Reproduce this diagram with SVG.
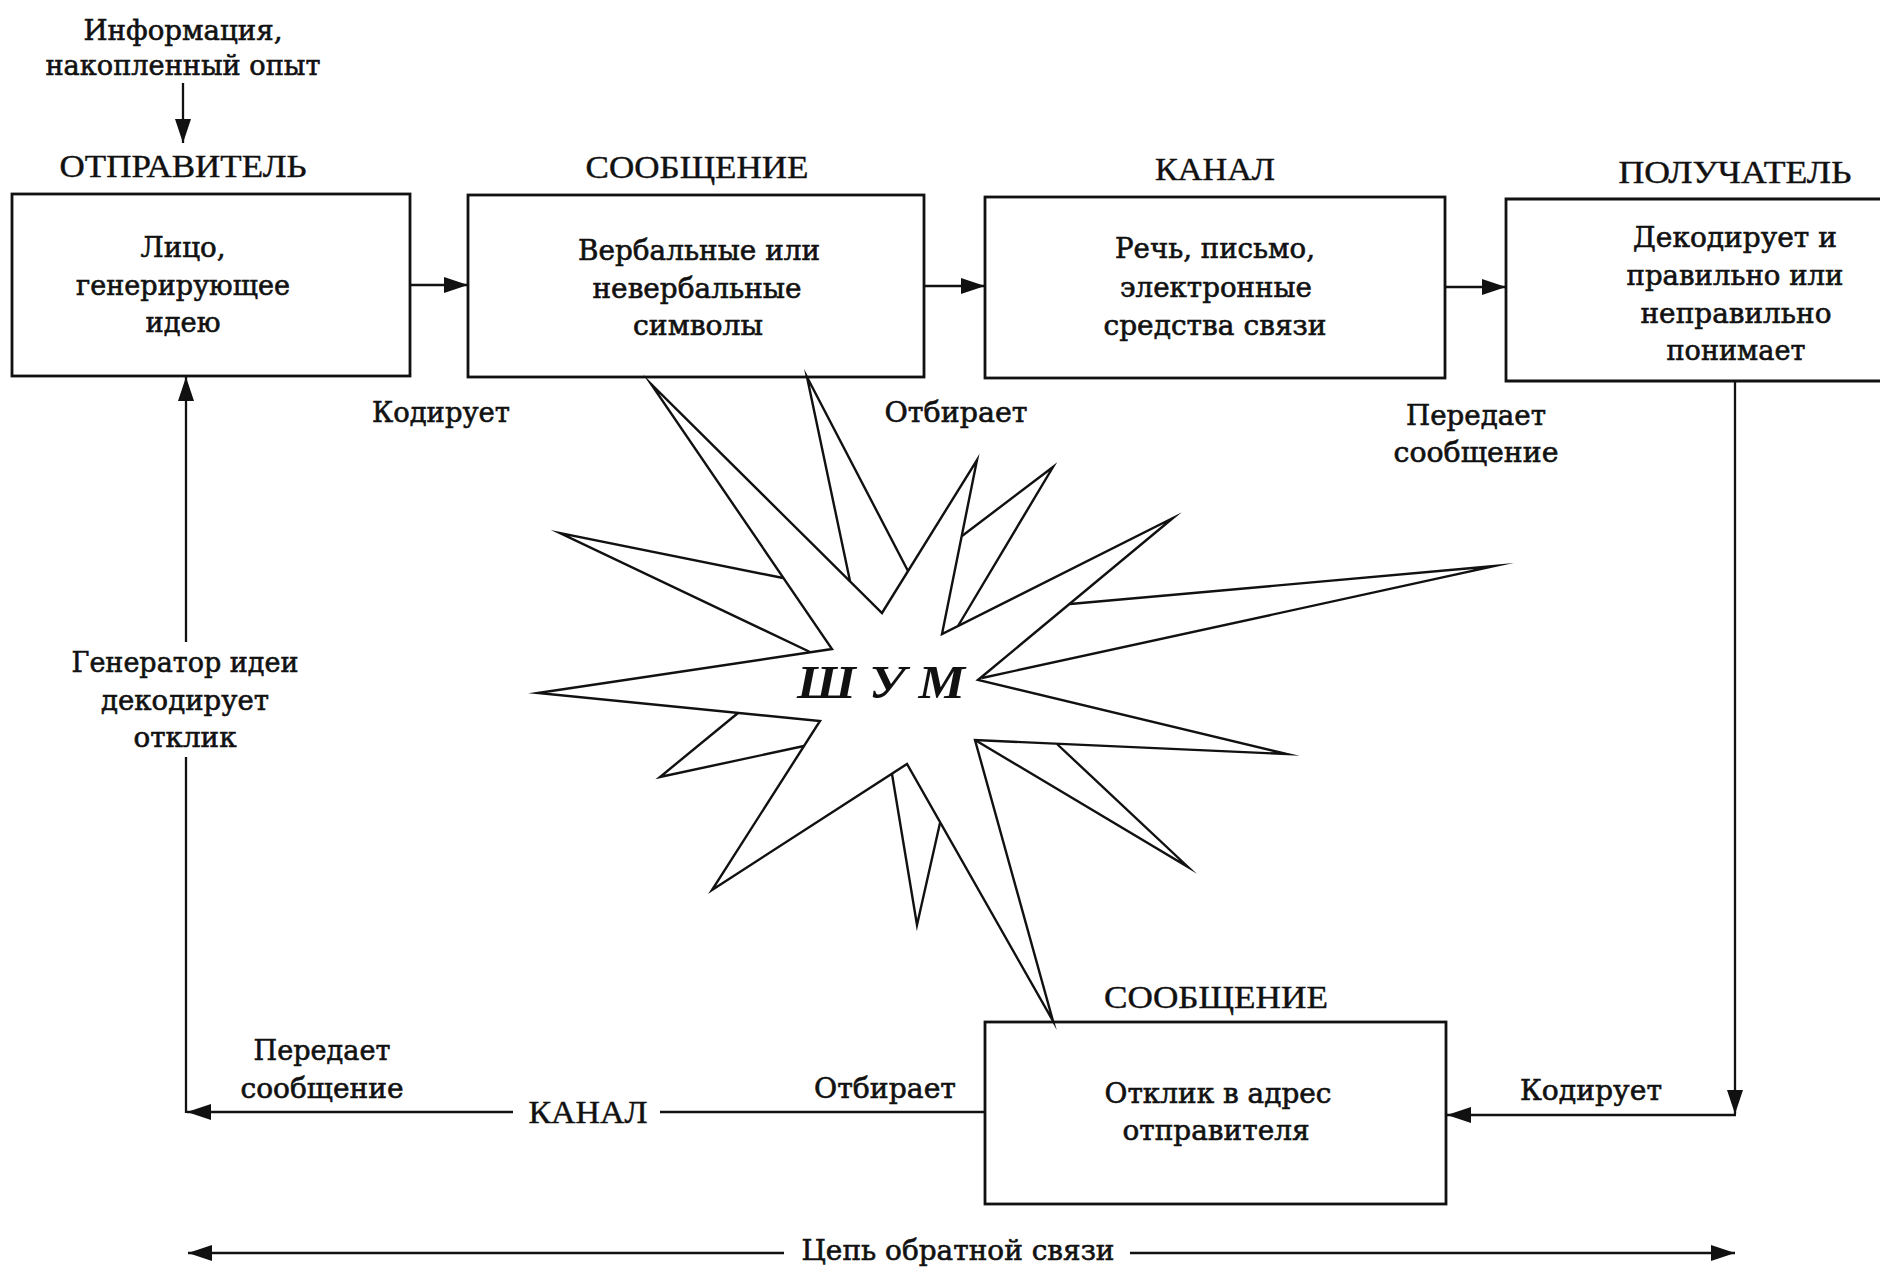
<svg xmlns="http://www.w3.org/2000/svg" width="1880" height="1267" viewBox="0 0 1880 1267">
<defs>
<style>
.box{fill:#fff;stroke:#111;stroke-width:2.8}
.ln{fill:none;stroke:#111;stroke-width:2.3}
.star{fill:none;stroke:#111;stroke-width:2.4;stroke-linejoin:miter;stroke-miterlimit:40}
.hd{font-family:"Liberation Serif",serif;font-size:31px;text-anchor:middle;fill:#111;stroke:#111;stroke-width:0.4}
.tx{font-family:"DejaVu Serif",serif;font-size:27px;text-anchor:middle;fill:#111;stroke:#111;stroke-width:0.6}
.noise{font-family:"Liberation Serif",serif;font-size:46px;font-weight:bold;font-style:italic;text-anchor:middle;fill:#111}
</style>
<marker id="ah" viewBox="0 0 24 16" refX="24" refY="8" markerWidth="24" markerHeight="16" markerUnits="userSpaceOnUse" orient="auto">
<path d="M0,0 L24,8 L0,16 z" fill="#111"/>
</marker>
</defs>
<rect width="1880" height="1267" fill="#fff"/>

<g id="input">
<text class="tx" x="183" y="40" textLength="199" lengthAdjust="spacingAndGlyphs">Информация,</text>
<text class="tx" x="183" y="75" textLength="275" lengthAdjust="spacingAndGlyphs">накопленный опыт</text>
</g>

<g id="sender">
<text class="hd" x="183" y="177" textLength="247" lengthAdjust="spacingAndGlyphs">ОТПРАВИТЕЛЬ</text>
<rect class="box" x="12" y="194" width="398" height="182"/>
<text class="tx" x="183" y="257" textLength="85" lengthAdjust="spacingAndGlyphs">Лицо,</text>
<text class="tx" x="183" y="295" textLength="214" lengthAdjust="spacingAndGlyphs">генерирующее</text>
<text class="tx" x="183" y="332" textLength="75" lengthAdjust="spacingAndGlyphs">идею</text>
</g>

<g id="message">
<text class="hd" x="697" y="178" textLength="223" lengthAdjust="spacingAndGlyphs">СООБЩЕНИЕ</text>
<rect class="box" x="468" y="195" width="456" height="182"/>
<text class="tx" x="699" y="260" textLength="242" lengthAdjust="spacingAndGlyphs">Вербальные или</text>
<text class="tx" x="697" y="298" textLength="209" lengthAdjust="spacingAndGlyphs">невербальные</text>
<text class="tx" x="698" y="335" textLength="130" lengthAdjust="spacingAndGlyphs">символы</text>
</g>

<g id="channel">
<text class="hd" x="1215" y="180" textLength="120" lengthAdjust="spacingAndGlyphs">КАНАЛ</text>
<rect class="box" x="985" y="197" width="460" height="181"/>
<text class="tx" x="1215" y="258" textLength="200" lengthAdjust="spacingAndGlyphs">Речь, письмо,</text>
<text class="tx" x="1216" y="297" textLength="192" lengthAdjust="spacingAndGlyphs">электронные</text>
<text class="tx" x="1215" y="335" textLength="223" lengthAdjust="spacingAndGlyphs">средства связи</text>
</g>

<g id="receiver">
<text class="hd" x="1735" y="183" textLength="233" lengthAdjust="spacingAndGlyphs">ПОЛУЧАТЕЛЬ</text>
<path class="box" d="M1885,199 H1506 V381 H1885"/>
<text class="tx" x="1735" y="247" textLength="204" lengthAdjust="spacingAndGlyphs">Декодирует и</text>
<text class="tx" x="1735" y="285" textLength="217" lengthAdjust="spacingAndGlyphs">правильно или</text>
<text class="tx" x="1736" y="323" textLength="191" lengthAdjust="spacingAndGlyphs">неправильно</text>
<text class="tx" x="1736" y="360" textLength="139" lengthAdjust="spacingAndGlyphs">понимает</text>
</g>

<g id="response">
<text class="hd" x="1216" y="1008" textLength="224" lengthAdjust="spacingAndGlyphs">СООБЩЕНИЕ</text>
<rect class="box" x="985" y="1022" width="461" height="182"/>
<text class="tx" x="1218" y="1103" textLength="227" lengthAdjust="spacingAndGlyphs">Отклик в адрес</text>
<text class="tx" x="1216" y="1140" textLength="187" lengthAdjust="spacingAndGlyphs">отправителя</text>
</g>

<g id="noise">
<path class="star" d="M538,693 L832,649 L651,384 L882,613 L977,460 L942,634 L1173,518 L978,680 L1287,754 L975,740 L1053,1021 L907,764 L712,890 L820,721 Z"/>
<path class="star" d="M783,578 L560,533 L810,652"/>
<path class="star" d="M850,581 L807,377 L908,571"/>
<path class="star" d="M962,536 L1053,467 L958,626"/>
<path class="star" d="M1070,604 L1495,566 L982,678"/>
<path class="star" d="M1057,744 L1188,867 L975,740"/>
<path class="star" d="M738,713 L660,777 L804,746"/>
<path class="star" d="M892,774 L917,925 L940,823"/>
<text class="noise" x="881" y="698" textLength="168" lengthAdjust="spacingAndGlyphs">Ш У М</text>
</g>

<g id="connectors">
<path class="ln" d="M183,83 V143" marker-end="url(#ah)"/>
<path class="ln" d="M410,285 H468" marker-end="url(#ah)"/>
<path class="ln" d="M924,286 H985" marker-end="url(#ah)"/>
<path class="ln" d="M1445,287 H1506" marker-end="url(#ah)"/>
<path class="ln" d="M1735,381 V1114" marker-end="url(#ah)"/>
<path class="ln" d="M1736,1115 H1447" marker-end="url(#ah)"/>
<path class="ln" d="M985,1112 H660"/>
<path class="ln" d="M513,1112 H187" marker-end="url(#ah)"/>
<path class="ln" d="M186,1113 V757"/>
<path class="ln" d="M186,642 V377" marker-end="url(#ah)"/>
<path class="ln" d="M784,1253 H188" marker-end="url(#ah)"/>
<path class="ln" d="M1130,1253 H1735" marker-end="url(#ah)"/>
</g>

<g id="labels">
<text class="tx" x="441" y="422" textLength="138" lengthAdjust="spacingAndGlyphs">Кодирует</text>
<text class="tx" x="956" y="422" textLength="143" lengthAdjust="spacingAndGlyphs">Отбирает</text>
<text class="tx" x="1476" y="425" textLength="140" lengthAdjust="spacingAndGlyphs">Передает</text>
<text class="tx" x="1476" y="462" textLength="165" lengthAdjust="spacingAndGlyphs">сообщение</text>
<text class="tx" x="185" y="672" textLength="227" lengthAdjust="spacingAndGlyphs">Генератор идеи</text>
<text class="tx" x="185" y="710" textLength="168" lengthAdjust="spacingAndGlyphs">декодирует</text>
<text class="tx" x="185" y="747" textLength="103" lengthAdjust="spacingAndGlyphs">отклик</text>
<text class="tx" x="322" y="1060" textLength="137" lengthAdjust="spacingAndGlyphs">Передает</text>
<text class="tx" x="322" y="1098" textLength="163" lengthAdjust="spacingAndGlyphs">сообщение</text>
<text class="hd" x="588" y="1123" textLength="119" lengthAdjust="spacingAndGlyphs">КАНАЛ</text>
<text class="tx" x="885" y="1098" textLength="142" lengthAdjust="spacingAndGlyphs">Отбирает</text>
<text class="tx" x="1591" y="1100" textLength="142" lengthAdjust="spacingAndGlyphs">Кодирует</text>
<text class="tx" x="958" y="1260" textLength="313" lengthAdjust="spacingAndGlyphs">Цепь обратной связи</text>
</g>
</svg>
